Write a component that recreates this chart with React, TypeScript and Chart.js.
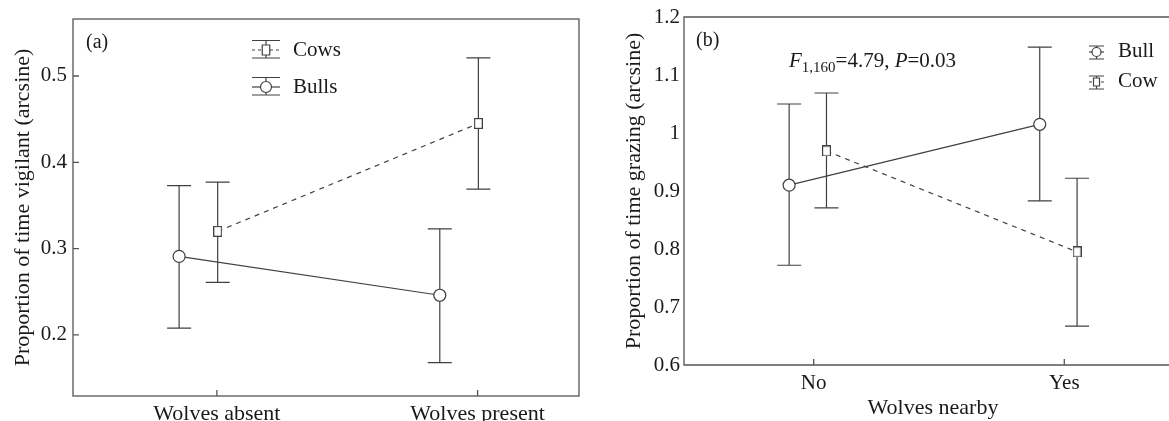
import React, { useEffect, useRef } from "react";
import { Chart, registerables } from "chart.js";

Chart.register(...registerables);

const FONT = "'Liberation Serif', 'Times New Roman', serif";
const INK = "#404040";
const TEXT = "#1a1a1a";
const FS = 21;

// ---------- Panel (a) data ----------
const catsA = ["Wolves absent", "Wolves present"];
const cowsA = [0.32, 0.445];
const cowsALow = [0.261, 0.369];
const cowsAHigh = [0.377, 0.521];
const bullsA = [0.291, 0.246];
const bullsALow = [0.208, 0.168];
const bullsAHigh = [0.373, 0.323];
const yTicksA = [0.2, 0.3, 0.4, 0.5];
const yTickLabelsA = ["0.2", "0.3", "0.4", "0.5"];
const dodgeA = { cows: 0.003, bulls: -0.145 };

// ---------- Panel (b) data ----------
const catsB = ["No", "Yes"];
const bullB = [0.91, 1.015];
const bullBLow = [0.772, 0.883];
const bullBHigh = [1.05, 1.148];
const cowB = [0.969, 0.795];
const cowBLow = [0.871, 0.667];
const cowBHigh = [1.069, 0.922];
const yTicksB = [0.6, 0.7, 0.8, 0.9, 1.0, 1.1, 1.2];
const yTickLabelsB = ["0.6", "0.7", "0.8", "0.9", "1", "1.1", "1.2"];
const dodgeB = { bull: -0.098, cow: 0.051 };

type Bars = { xs: number[]; lo: number[]; hi: number[] };

function makeSquare(w: number, h: number): HTMLCanvasElement {
  const c = document.createElement("canvas");
  c.width = w;
  c.height = h;
  const g = c.getContext("2d")!;
  g.fillStyle = "#fff";
  g.fillRect(0, 0, w, h);
  g.strokeStyle = INK;
  g.lineWidth = 1.2;
  g.strokeRect(0.6, 0.6, w - 1.2, h - 1.2);
  return c;
}

function drawErrorBars(chart: any, bars: Bars[], cap: number) {
  const { ctx, scales } = chart;
  const x = scales.x;
  const y = scales.y;
  ctx.save();
  ctx.strokeStyle = INK;
  ctx.lineWidth = 1.2;
  for (const b of bars) {
    for (let i = 0; i < b.xs.length; i++) {
      const px = x.getPixelForValue(b.xs[i]);
      const top = y.getPixelForValue(b.hi[i]);
      const bot = y.getPixelForValue(b.lo[i]);
      ctx.beginPath();
      ctx.moveTo(px, top);
      ctx.lineTo(px, bot);
      ctx.moveTo(px - cap, top);
      ctx.lineTo(px + cap, top);
      ctx.moveTo(px - cap, bot);
      ctx.lineTo(px + cap, bot);
      ctx.stroke();
    }
  }
  ctx.restore();
}

function drawGlyph(
  ctx: CanvasRenderingContext2D,
  cx: number,
  cy: number,
  halfW: number,
  capUp: number,
  capDown: number,
  dashed: boolean,
  marker: "circle" | "square",
  size: number
) {
  ctx.save();
  ctx.strokeStyle = INK;
  ctx.lineWidth = 1.2;
  ctx.beginPath();
  ctx.moveTo(cx - halfW, cy - capUp);
  ctx.lineTo(cx + halfW, cy - capUp);
  ctx.moveTo(cx - halfW, cy + capDown);
  ctx.lineTo(cx + halfW, cy + capDown);
  ctx.moveTo(cx, cy - capUp);
  ctx.lineTo(cx, cy + capDown);
  ctx.stroke();
  ctx.beginPath();
  if (dashed) ctx.setLineDash([3, 3]);
  ctx.moveTo(cx - halfW, cy);
  ctx.lineTo(cx + halfW, cy);
  ctx.stroke();
  ctx.setLineDash([]);
  ctx.fillStyle = "#fff";
  ctx.beginPath();
  if (marker === "circle") {
    ctx.arc(cx, cy, size, 0, Math.PI * 2);
  } else {
    ctx.rect(cx - size * 0.75, cy - size, size * 1.5, size * 2);
  }
  ctx.fill();
  ctx.stroke();
  ctx.restore();
}

function text(ctx: CanvasRenderingContext2D, s: string, x: number, y: number, font: string) {
  ctx.font = font;
  ctx.fillText(s, x, y);
  return ctx.measureText(s).width;
}

const tickFont = { family: FONT, size: FS, lineHeight: 1.2 };
const bigFont = { family: FONT, size: 22, lineHeight: 1.2 };

export default function App() {
  const refA = useRef<HTMLCanvasElement | null>(null);
  const refB = useRef<HTMLCanvasElement | null>(null);

  useEffect(() => {
    const sqA = makeSquare(9, 11);
    const sqB = makeSquare(9, 11);

    const plugA = {
      id: "decorA",
      beforeDatasetsDraw(chart: any) {
        drawErrorBars(
          chart,
          [
            { xs: catsA.map((_, i) => i + dodgeA.cows), lo: cowsALow, hi: cowsAHigh },
            { xs: catsA.map((_, i) => i + dodgeA.bulls), lo: bullsALow, hi: bullsAHigh },
          ],
          12
        );
      },
      afterDraw(chart: any) {
        const { ctx, chartArea: a, scales } = chart;
        ctx.save();
        ctx.strokeStyle = "#555";
        ctx.lineWidth = 1.3;
        ctx.strokeRect(a.left, a.top, a.right - a.left, a.bottom - a.top);
        ctx.beginPath();
        for (const v of yTicksA) {
          const py = scales.y.getPixelForValue(v);
          ctx.moveTo(a.left, py);
          ctx.lineTo(a.left + 6, py);
        }
        catsA.forEach((_, i) => {
          const px = scales.x.getPixelForValue(i);
          ctx.moveTo(px, a.bottom);
          ctx.lineTo(px, a.bottom - 6);
        });
        ctx.stroke();
        ctx.fillStyle = TEXT;
        ctx.textBaseline = "middle";
        ctx.textAlign = "left";
        text(ctx, "(a)", 86, 43, `${FS - 1}px ${FONT}`);
        drawGlyph(ctx, 266, 50, 14, 9.5, 8, true, "square", 5);
        drawGlyph(ctx, 266, 87, 14, 9.5, 8, false, "circle", 5.5);
        ctx.fillStyle = TEXT;
        text(ctx, "Cows", 293, 50, `${FS}px ${FONT}`);
        text(ctx, "Bulls", 293, 87, `${FS}px ${FONT}`);
        ctx.restore();
      },
    };

    const plugB = {
      id: "decorB",
      beforeDatasetsDraw(chart: any) {
        drawErrorBars(
          chart,
          [
            { xs: catsB.map((_, i) => i + dodgeB.bull), lo: bullBLow, hi: bullBHigh },
            { xs: catsB.map((_, i) => i + dodgeB.cow), lo: cowBLow, hi: cowBHigh },
          ],
          12
        );
      },
      afterDraw(chart: any) {
        const { ctx, chartArea: a, scales } = chart;
        ctx.save();
        ctx.strokeStyle = "#555";
        ctx.lineWidth = 1.3;
        ctx.beginPath();
        ctx.moveTo(a.right + 40, a.top);
        ctx.lineTo(a.left, a.top);
        ctx.lineTo(a.left, a.bottom);
        ctx.lineTo(a.right + 40, a.bottom);
        catsB.forEach((_, i) => {
          const px = scales.x.getPixelForValue(i);
          ctx.moveTo(px, a.bottom);
          ctx.lineTo(px, a.bottom - 6);
        });
        ctx.stroke();
        ctx.fillStyle = TEXT;
        ctx.textBaseline = "middle";
        ctx.textAlign = "left";
        text(ctx, "(b)", 96, 41, `${FS - 1}px ${FONT}`);
        // statistic annotation
        ctx.textBaseline = "alphabetic";
        let x = 189;
        const base = 67;
        x += text(ctx, "F", x, base, `italic ${FS}px ${FONT}`);
        x += text(ctx, "1,160", x, base + 5, `${FS - 6}px ${FONT}`);
        x += text(ctx, "=4.79, ", x, base, `${FS}px ${FONT}`);
        x += text(ctx, "P", x, base, `italic ${FS}px ${FONT}`);
        text(ctx, "=0.03", x, base, `${FS}px ${FONT}`);
        // legend
        drawGlyph(ctx, 496.5, 52, 7.5, 6, 7, false, "circle", 4.5);
        drawGlyph(ctx, 496.5, 82, 7.5, 6, 7, true, "square", 4);
        ctx.fillStyle = TEXT;
        ctx.textBaseline = "middle";
        text(ctx, "Bull", 518, 51, `${FS}px ${FONT}`);
        text(ctx, "Cow", 518, 81, `${FS}px ${FONT}`);
        ctx.restore();
      },
    };

    const chartA = new Chart(refA.current!, {
      type: "line",
      data: {
        datasets: [
          {
            label: "Cows",
            data: catsA.map((_, i) => ({ x: i + dodgeA.cows, y: cowsA[i] })),
            borderColor: INK,
            borderWidth: 1.2,
            borderDash: [5, 5],
            pointStyle: sqA as any,
            pointRadius: 5,
            pointBackgroundColor: "#fff",
            pointBorderColor: INK,
          },
          {
            label: "Bulls",
            data: catsA.map((_, i) => ({ x: i + dodgeA.bulls, y: bullsA[i] })),
            borderColor: INK,
            borderWidth: 1.2,
            pointStyle: "circle",
            pointRadius: 6,
            pointBackgroundColor: "#fff",
            pointBorderColor: INK,
            pointBorderWidth: 1.2,
          },
        ],
      },
      options: {
        animation: false,
        responsive: false,
        layout: { padding: { top: 19, right: 21, left: 0, bottom: 0 } },
        plugins: { legend: { display: false }, tooltip: { enabled: false } },
        scales: {
          x: {
            type: "linear",
            min: -0.552,
            max: 1.389,
            grid: { display: false, drawTicks: false },
            border: { display: false },
            afterBuildTicks: (s: any) => {
              s.ticks = catsA.map((_, i) => ({ value: i }));
            },
            afterFit: (s: any) => {
              s.height = 25;
            },
            ticks: {
              autoSkip: false,
              maxRotation: 0,
              padding: 5,
              color: TEXT,
              font: bigFont,
              callback: (v: any) => catsA[v as number] ?? "",
            },
          },
          y: {
            type: "linear",
            min: 0.1293,
            max: 0.566,
            grid: { display: false, drawTicks: false },
            border: { display: false },
            afterBuildTicks: (s: any) => {
              s.ticks = yTicksA.map((v) => ({ value: v }));
            },
            afterFit: (s: any) => {
              s.width = 73;
            },
            ticks: {
              padding: 6,
              color: TEXT,
              font: tickFont,
              callback: (_v: any, i: number) => yTickLabelsA[i],
            },
            title: {
              display: true,
              text: "Proportion of time vigilant (arcsine)",
              color: TEXT,
              font: bigFont,
              padding: { top: 10, bottom: 0 },
            },
          },
        },
      },
      plugins: [plugA],
    } as any);

    const chartB = new Chart(refB.current!, {
      type: "line",
      data: {
        datasets: [
          {
            label: "Bull",
            data: catsB.map((_, i) => ({ x: i + dodgeB.bull, y: bullB[i] })),
            borderColor: INK,
            borderWidth: 1.2,
            pointStyle: "circle",
            pointRadius: 6,
            pointBackgroundColor: "#fff",
            pointBorderColor: INK,
            pointBorderWidth: 1.2,
          },
          {
            label: "Cow",
            data: catsB.map((_, i) => ({ x: i + dodgeB.cow, y: cowB[i] })),
            borderColor: INK,
            borderWidth: 1.2,
            borderDash: [5, 5],
            pointStyle: sqB as any,
            pointRadius: 5,
            pointBackgroundColor: "#fff",
            pointBorderColor: INK,
          },
        ],
      },
      options: {
        animation: false,
        responsive: false,
        layout: { padding: { top: 17, right: 18, left: 0, bottom: 0 } },
        plugins: { legend: { display: false }, tooltip: { enabled: false } },
        scales: {
          x: {
            type: "linear",
            min: -0.5176,
            max: 1.4697,
            grid: { display: false, drawTicks: false },
            border: { display: false },
            afterBuildTicks: (s: any) => {
              s.ticks = catsB.map((_, i) => ({ value: i }));
            },
            afterFit: (s: any) => {
              s.height = 56;
            },
            ticks: {
              autoSkip: false,
              maxRotation: 0,
              padding: 6,
              color: TEXT,
              font: tickFont,
              callback: (v: any) => catsB[v as number] ?? "",
            },
            title: {
              display: true,
              text: "Wolves nearby",
              color: TEXT,
              font: bigFont,
              padding: { top: 0, bottom: 0 },
            },
          },
          y: {
            type: "linear",
            min: 0.6,
            max: 1.2,
            grid: { display: false, drawTicks: false },
            border: { display: false },
            afterBuildTicks: (s: any) => {
              s.ticks = yTicksB.map((v) => ({ value: v }));
            },
            afterFit: (s: any) => {
              s.width = 84;
            },
            ticks: {
              padding: 4,
              color: TEXT,
              font: tickFont,
              callback: (_v: any, i: number) => yTickLabelsB[i],
            },
            title: {
              display: true,
              text: "Proportion of time grazing (arcsine)",
              color: TEXT,
              font: bigFont,
              padding: { top: 21, bottom: 0 },
            },
          },
        },
      },
      plugins: [plugB],
    } as any);

    return () => {
      chartA.destroy();
      chartB.destroy();
    };
  }, []);

  return (
    <div
      style={{
        position: "absolute",
        left: 0,
        top: 0,
        width: 1169,
        height: 421,
        overflow: "hidden",
        background: "#fff",
      }}
    >
      <canvas ref={refA} width={600} height={421} style={{ position: "absolute", left: 0, top: 0 }} />
      <canvas ref={refB} width={600} height={421} style={{ position: "absolute", left: 600, top: 0 }} />
    </div>
  );
}
